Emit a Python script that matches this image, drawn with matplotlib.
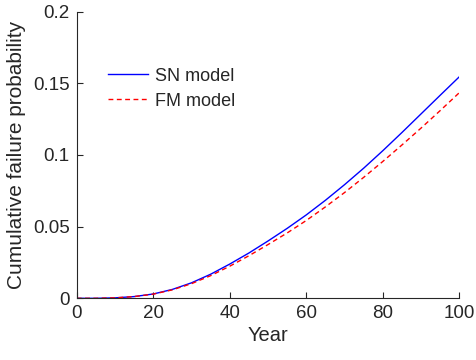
import matplotlib
matplotlib.use("Agg")
import matplotlib.pyplot as plt

# Data
years = [0, 5, 10, 15, 20, 25, 30, 35, 40, 45, 50,
         55, 60, 65, 70, 75, 80, 85, 90, 95, 100]
sn_model = [0.0, 0.0, 0.0003, 0.0012, 0.0030, 0.0062, 0.0108, 0.0168, 0.0239, 0.0316, 0.0400,
            0.0488, 0.0582, 0.0684, 0.0793, 0.0908, 0.1030, 0.1157, 0.1287, 0.1417, 0.1546]
fm_model = [0.0, 0.0, 0.0003, 0.0012, 0.0029, 0.0059, 0.0102, 0.0158, 0.0224, 0.0297, 0.0375,
            0.0456, 0.0543, 0.0638, 0.0738, 0.0844, 0.0955, 0.1070, 0.1188, 0.1310, 0.1435]

xticks = [0, 20, 40, 60, 80, 100]
yticks = [0, 0.05, 0.1, 0.15, 0.2]
yticklabels = ["0", "0.05", "0.1", "0.15", "0.2"]

plt.rcParams["font.family"] = ["Liberation Sans", "DejaVu Sans"]
dark = "#262626"

fig = plt.figure(figsize=(4.76, 3.6), dpi=100)
ax = fig.add_axes([0.1612, 0.1714, 0.8038, 0.7961])

ax.plot(years, sn_model, color="#0000ff", lw=1.0, label="SN model")
ax.plot(years, fm_model, color="#ff0000", lw=1.0, ls=(0, (3.5, 2.5)), label="FM model")

ax.set_xlim(0, 100)
ax.set_ylim(0, 0.2)
ax.set_xticks(xticks)
ax.set_yticks(yticks)
ax.set_yticklabels(yticklabels)

for side in ["top", "right"]:
    ax.spines[side].set_visible(False)
for side in ["left", "bottom"]:
    ax.spines[side].set_color(dark)
    ax.spines[side].set_linewidth(0.8)

ax.tick_params(direction="in", length=4, width=0.8, color=dark,
               labelcolor=dark, labelsize=13.5, pad=5)

ax.set_xlabel("Year", fontsize=14.5, color=dark, labelpad=3)
ax.set_ylabel("Cumulative failure probability", fontsize=15, color=dark, labelpad=5)

leg = ax.legend(loc="upper left", bbox_to_anchor=(0.082, 0.805), frameon=False,
                fontsize=13, handlelength=2.2, handletextpad=0.4,
                labelspacing=0.45, borderpad=0, borderaxespad=0)
for t in leg.get_texts():
    t.set_color(dark)

fig.savefig("out.png", dpi=100)
